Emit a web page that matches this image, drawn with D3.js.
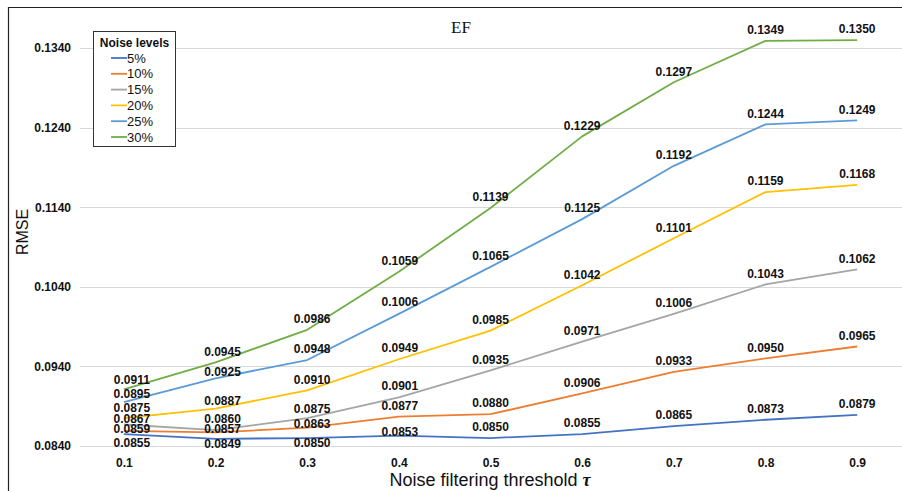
<!DOCTYPE html>
<html>
<head>
<meta charset="utf-8">
<script src="https://cdn.jsdelivr.net/npm/d3@7"></script>
<style>
  html, body { margin: 0; padding: 0; background: #fff; }
  svg { display: block; }
</style>
</head>
<body>
<svg id="chart" width="902" height="491"></svg>
<script>
// ---- data ----
const categories = ["0.1", "0.2", "0.3", "0.4", "0.5", "0.6", "0.7", "0.8", "0.9"];
const seriesNames = ["5%", "10%", "15%", "20%", "25%", "30%"];
const s5  = [0.0855, 0.0849, 0.0850, 0.0853, 0.0850, 0.0855, 0.0865, 0.0873, 0.0879];
const s10 = [0.0859, 0.0857, 0.0863, 0.0877, 0.0880, 0.0906, 0.0933, 0.0950, 0.0965];
const s15 = [0.0867, 0.0860, 0.0875, 0.0901, 0.0935, 0.0971, 0.1006, 0.1043, 0.1062];
const s20 = [0.0875, 0.0887, 0.0910, 0.0949, 0.0985, 0.1042, 0.1101, 0.1159, 0.1168];
const s25 = [0.0895, 0.0925, 0.0948, 0.1006, 0.1065, 0.1125, 0.1192, 0.1244, 0.1249];
const s30 = [0.0911, 0.0945, 0.0986, 0.1059, 0.1139, 0.1229, 0.1297, 0.1349, 0.1350];
const yTicks = [0.0840, 0.0940, 0.1040, 0.1140, 0.1240, 0.1340];

// ---- styling / placement ----
const colors = ["#4472C4", "#ED7D31", "#A5A5A5", "#FFC000", "#5B9BD5", "#70AD47"];
const allSeries = [s5, s10, s15, s20, s25, s30];
// label vertical offsets (label centre minus point) for the first points of each series; others default
const labelDyStart = [
  [8.5, 4.5, 4.5, -4],
  [-2, -4, -4.5, -10.5],
  [-6, -11.5, -9, -12],
  [-10.5, -7.5, -10.5, -11.5],
  [-9, -6.5, -11, -12],
  [-9.5, -11, -11, -11]
];
const labelDyDefault = -11;
const labelDx = [8, 7, 5, 1, 0, 0, 0, 0, 0];

const svg = d3.select("#chart");
const FONT = "'Liberation Sans', Arial, sans-serif";

const x = d3.scalePoint().domain(categories).range([78, 903]).padding(0.5);
const y = d3.scaleLinear().domain([0.084, 0.134]).range([446, 48]);

// frame
svg.append("line").attr("x1", 8).attr("x2", 902).attr("y1", 7.5).attr("y2", 7.5)
  .attr("stroke", "#222").attr("stroke-width", 1.2);
svg.append("line").attr("x1", 8.5).attr("x2", 8.5).attr("y1", 7).attr("y2", 491)
  .attr("stroke", "#222").attr("stroke-width", 1.2);

// gridlines
svg.append("g").selectAll("line").data(yTicks).join("line")
  .attr("x1", 80).attr("x2", 902)
  .attr("y1", d => Math.round(y(d)) + 0.5).attr("y2", d => Math.round(y(d)) + 0.5)
  .attr("stroke", "#d9d9d9").attr("stroke-width", 1);

// y axis
const yAxis = svg.append("g").attr("transform", "translate(80,0)")
  .call(d3.axisLeft(y).tickValues(yTicks).tickFormat(d3.format(".4f")).tickSize(0).tickPadding(9));
yAxis.select(".domain").remove();
yAxis.selectAll("text").attr("font-family", FONT).attr("font-size", 12)
  .attr("font-weight", "bold").attr("fill", "#111");

// x axis
const xAxis = svg.append("g").attr("transform", "translate(0,446)")
  .call(d3.axisBottom(x).tickSize(0).tickPadding(12));
xAxis.select(".domain").remove();
xAxis.selectAll("text").attr("font-family", FONT).attr("font-size", 12)
  .attr("font-weight", "bold").attr("fill", "#111");

// axis titles
svg.append("text").attr("x", 490).attr("y", 486).attr("text-anchor", "middle")
  .attr("font-family", FONT).attr("font-size", 18).attr("fill", "#111")
  .text("Noise filtering threshold ")
  .append("tspan").attr("font-family", "'Liberation Serif', 'DejaVu Serif', serif")
  .attr("font-style", "italic").attr("font-weight", "bold").text("τ");

svg.append("text").attr("transform", "translate(28,232) rotate(-90)")
  .attr("text-anchor", "middle").attr("font-family", FONT).attr("font-size", 16)
  .attr("fill", "#111").text("RMSE");

// title
svg.append("text").attr("x", 461).attr("y", 33).attr("text-anchor", "middle")
  .attr("font-family", "'Liberation Serif', 'Times New Roman', serif").attr("font-size", 17)
  .attr("fill", "#111").text("EF");

// lines
const line = d3.line().x((d, i) => x(categories[i])).y(d => y(d));
svg.append("g").selectAll("path").data(allSeries).join("path")
  .attr("d", d => line(d))
  .attr("fill", "none")
  .attr("stroke", (d, i) => colors[i])
  .attr("stroke-width", 1.8)
  .attr("stroke-linejoin", "round");

// data labels
const labelData = [];
allSeries.forEach((vals, si) => {
  vals.forEach((v, i) => {
    const dy = i < labelDyStart[si].length ? labelDyStart[si][i] : labelDyDefault;
    labelData.push({ v, i, si, dy });
  });
});
svg.append("g").selectAll("text").data(labelData).join("text")
  .attr("x", d => x(categories[d.i]) + labelDx[d.i])
  .attr("y", d => y(d.v) + d.dy)
  .attr("dy", "0.36em")
  .attr("text-anchor", "middle")
  .attr("font-family", FONT).attr("font-size", 12).attr("font-weight", "bold")
  .attr("fill", "#111")
  .text(d => d3.format(".4f")(d.v));

// legend
const lg = svg.append("g");
lg.append("rect").attr("x", 93.5).attr("y", 31.5).attr("width", 82).attr("height", 115)
  .attr("fill", "#fff").attr("stroke", "#333").attr("stroke-width", 1);
lg.append("text").attr("x", 134.5).attr("y", 43).attr("dy", "0.36em").attr("text-anchor", "middle")
  .attr("font-family", FONT).attr("font-size", 12).attr("font-weight", "bold").attr("fill", "#111")
  .text("Noise levels");
const items = lg.selectAll("g.item").data(seriesNames).join("g")
  .attr("transform", (d, i) => `translate(0,${58 + i * 15.8})`);
items.append("line").attr("x1", 111).attr("x2", 127).attr("y1", 0).attr("y2", 0)
  .attr("stroke", (d, i) => colors[i]).attr("stroke-width", 1.8);
items.append("text").attr("x", 127).attr("y", 0).attr("dy", "0.36em")
  .attr("font-family", FONT).attr("font-size", 13).attr("fill", "#111")
  .text(d => d);
</script>
</body>
</html>
